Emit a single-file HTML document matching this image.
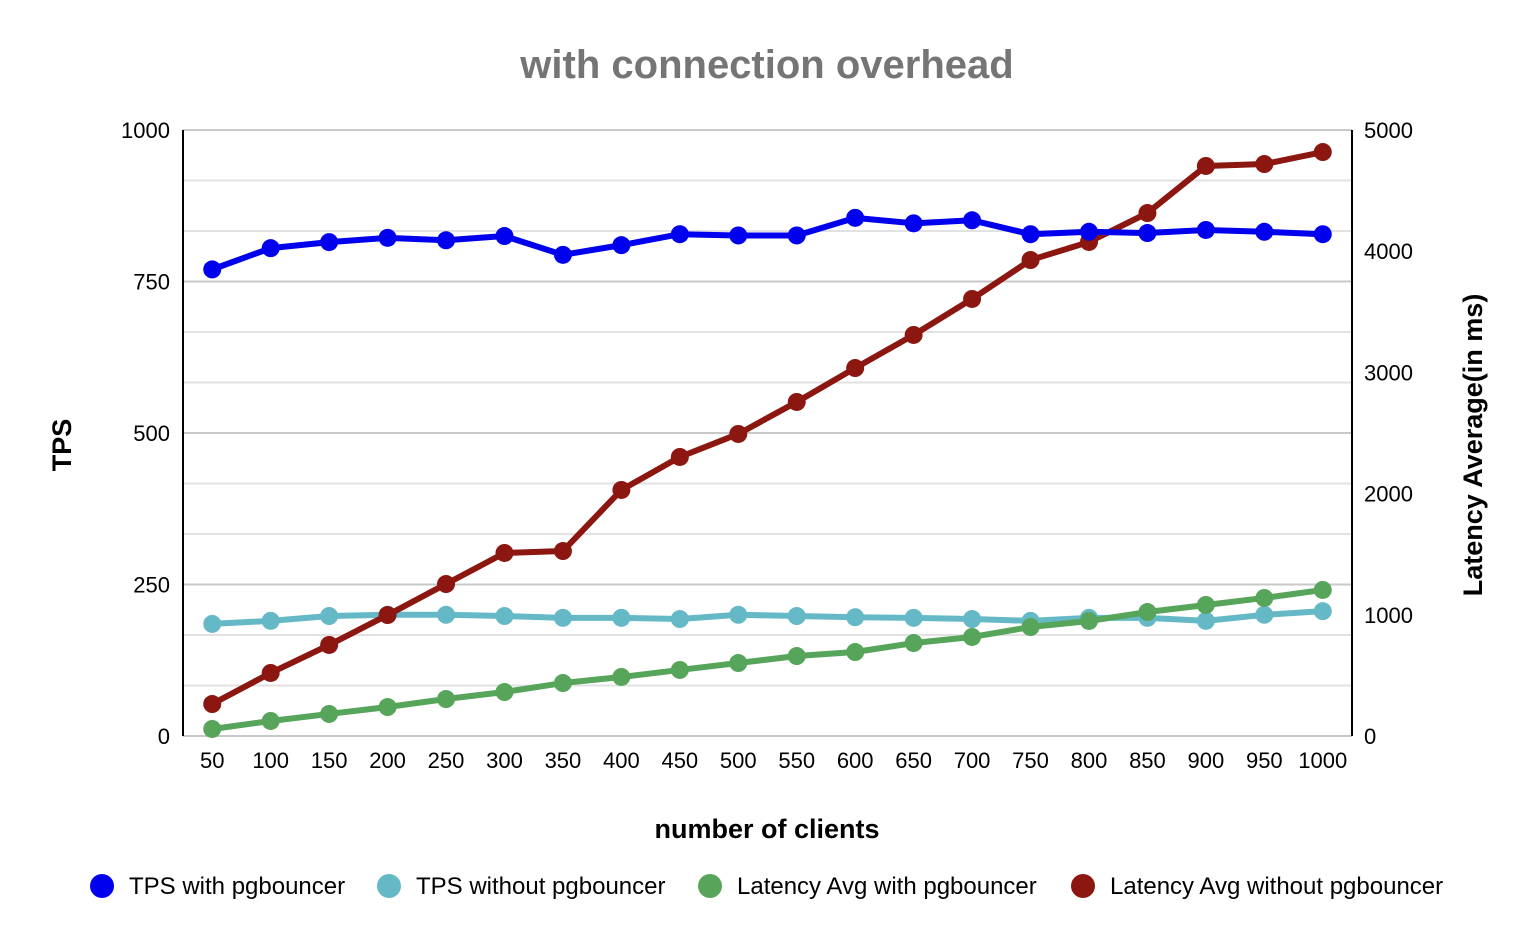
<!DOCTYPE html>
<html><head><meta charset="utf-8"><style>
body{margin:0;background:#fff;font-family:"Liberation Sans",Arial,sans-serif}
</style></head><body>
<svg id="c" width="1534" height="946" xmlns="http://www.w3.org/2000/svg"></svg>
<script>
const categories=[50,100,150,200,250,300,350,400,450,500,550,600,650,700,750,800,850,900,950,1000];
const tpsWith=[770,805,815,822,818,825,794,810,828,826,826,855,846,851,828,832,830,835,832,828];
const tpsWithout=[185,190,198,200,200,198,195,195,193,200,198,196,195,193,190,195,195,190,200,206];
const latWith=[58,124,182,239,305,363,437,487,545,602,660,693,767,817,899,949,1023,1081,1139,1205];
const latWithout=[264,520,751,998,1254,1510,1526,2030,2302,2492,2756,3036,3309,3606,3927,4076,4315,4703,4719,4818];
const leftTicks=[0,250,500,750,1000];
const rightTicks=[0,1000,2000,3000,4000,5000];
const svg=document.getElementById('c');
const NS='http://www.w3.org/2000/svg';
const X0=183,X1=1352,Y0=736,Y1=130;
const xs=i=>X0+(X1-X0)/categories.length*(i+0.5);
const yL=v=>Y0-(Y0-Y1)*v/1000;
const yR=v=>Y0-(Y0-Y1)*v/5000;
function el(t,a,txt){const e=document.createElementNS(NS,t);for(const k in a)e.setAttribute(k,a[k]);if(txt!==undefined)e.textContent=txt;svg.appendChild(e);return e;}
for(let k=0;k<=12;k++){const v=k*1000/12;const y=yL(v);const major=k%3===0;
const g=el('line',{x1:X0,x2:X1,y1:y,y2:y,stroke:major?'#c8c8c8':'#e2e2e2','stroke-width':2});

}
const ax=el('line',{x1:X0,x2:X0,y1:Y1,y2:Y0,stroke:'#000','stroke-width':2});


const ax2=el('line',{x1:X1,x2:X1,y1:Y1,y2:Y0,stroke:'#000','stroke-width':2});


leftTicks.forEach(v=>{const t=el('text',{x:170,y:yL(v)+8,'text-anchor':'end','font-size':22},String(v));

});
rightTicks.forEach(v=>{const t=el('text',{x:1364,y:yR(v)+8,'text-anchor':'start','font-size':22},String(v));

});
categories.forEach((c,i)=>{const t=el('text',{x:xs(i),y:768,'text-anchor':'middle','font-size':22},String(c));

});
function series(vals,yf,color,name){
const p=el('polyline',{points:vals.map((v,i)=>xs(i)+','+yf(v)).join(' '),fill:'none',stroke:color,'stroke-width':6,'stroke-linejoin':'round'});


vals.forEach((v,i)=>{const c=el('circle',{cx:xs(i),cy:yf(v),r:9,fill:color});

});}
series(tpsWithout,yL,'#65b9c6','tps-without-pgbouncer');
series(latWith,yR,'#56a55a','latency-with-pgbouncer');
series(latWithout,yR,'#8c1610','latency-without-pgbouncer');
series(tpsWith,yL,'#0000ee','tps-with-pgbouncer');
const ti=el('text',{x:767,y:78,'text-anchor':'middle','font-size':40,'font-weight':'bold',fill:'#757575'},'with connection overhead');


const xt=el('text',{x:767,y:838,'text-anchor':'middle','font-size':27,'font-weight':'bold'},'number of clients');


const yt=el('text',{x:0,y:0,'text-anchor':'middle','font-size':27,'font-weight':'bold',transform:'translate(71,445) rotate(-90)'},'TPS');


const yt2=el('text',{x:0,y:0,'text-anchor':'middle','font-size':27,'font-weight':'bold',transform:'translate(1482,445) rotate(-90)'},'Latency Average(in ms)');


const legend=[['TPS with pgbouncer','#0000ee',102],['TPS without pgbouncer','#65b9c6',389],['Latency Avg with pgbouncer','#56a55a',710],['Latency Avg without pgbouncer','#8c1610',1083]];
legend.forEach(([l,c,x])=>{const d=el('circle',{cx:x,cy:886,r:12,fill:c});


const t=el('text',{x:x+27,y:894,'font-size':24},l);

});
</script>
</body></html>
